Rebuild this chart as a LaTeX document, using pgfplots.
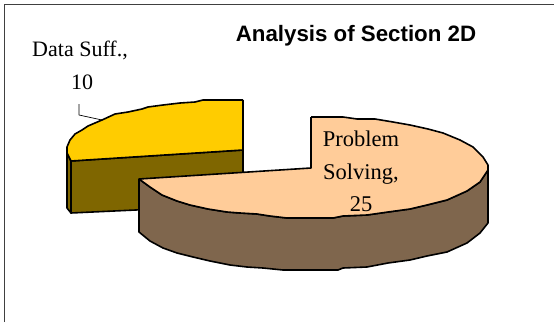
\documentclass[border=0pt]{standalone}
\usepackage{pgfplots}
\pgfplotsset{compat=1.18}
\usepackage{fontspec}
\setmainfont{Liberation Serif}
\newfontfamily\arialfont{Liberation Sans}
\definecolor{yellowtop}{HTML}{FFCC00}
\definecolor{yellowside}{HTML}{7F6600}
\definecolor{peachtop}{HTML}{FFCC99}
\definecolor{peachside}{HTML}{7F664D}
\begin{document}
\begin{tikzpicture}
\begin{axis}[
    at={(0pt,0pt)},
    anchor=south west,
    scale only axis,
    width=554pt,
    height=322pt,
    xmin=0, xmax=554,
    ymin=0, ymax=322,
    y dir=reverse,
    hide axis,
    every axis plot/.append style={sharp plot, no marks, line join=round},
]
% chart frame, runs off the bottom and right
\addplot[draw=black!75, line width=0.9pt] coordinates {(4,322)(4,4)(554,4)};

% Data Suff. slice
\addplot[fill=yellowside, draw=black, line width=1.6pt] coordinates {
    (67,153)(71,161)(71,213)(67,208)(67,153)};
\addplot[fill=yellowside, draw=black, line width=1.6pt] coordinates {
    (71,161)(243,150)(243,205)(71,213)(71,161)};
\addplot[fill=yellowtop, draw=black, line width=1.6pt] coordinates {
    (243,100)(203,100)(195,102)(180,103)(163,105)(148,107)(142,109)(128,112)
    (115,114)(102,120)(88,126)(82,130)(75,134)(70,140)(67,147)(67,153)(71,161)
    (243,150)(243,100)};

% Problem Solving slice
\addplot[fill=peachside, draw=black, line width=1.6pt] coordinates {
    (139,179)(150,187)(162,195)(177,201)(190,205)(208,209)(227,212)(240,213)
    (257,214)(270,216)(287,218)(333,218)(343,216)(367,215)(388,212)(410,209)
    (427,205)(447,200)(467,191)(480,182)(488,170)
    (488,223)(480,233)(467,243)(447,252)(427,256)(410,260)(388,263)(367,267)
    (343,268)(338,270)(283,270)(263,268)(247,267)(230,265)(210,261)(193,257)
    (177,253)(163,248)(150,241)(139,232)(139,179)};
\addplot[fill=peachtop, draw=black, line width=1.6pt] coordinates {
    (311,117)(311,168)(139,179)(150,187)(162,195)(177,201)(190,205)(208,209)
    (227,212)(240,213)(257,214)(270,216)(287,218)(333,218)(343,216)(367,215)
    (388,212)(410,209)(427,205)(447,200)(467,191)(480,182)(488,170)(488,165)
    (483,157)(473,147)(460,140)(443,133)(428,129)(410,125)(393,122)(375,119)
    (357,119)(343,117)(311,117)};

% leader line
\addplot[draw=black, line width=0.7pt] coordinates {(79,104)(79,115)(102,120)};

\node[anchor=base, inner sep=0pt, font=\arialfont\bfseries\fontsize{22.3}{24}\selectfont]
    at (axis cs:356,41) {Analysis of Section 2D};
\node[anchor=base, inner sep=0pt, font=\fontsize{22}{24}\selectfont] at (axis cs:80,56) {Data Suff.,};
\node[anchor=base, inner sep=0pt, font=\fontsize{22}{24}\selectfont] at (axis cs:82,89) {10};
\node[anchor=base, inner sep=0pt, font=\fontsize{22.5}{24}\selectfont] at (axis cs:361,146) {Problem};
\node[anchor=base, inner sep=0pt, font=\fontsize{22.5}{24}\selectfont] at (axis cs:361,179) {Solving,};
\node[anchor=base, inner sep=0pt, font=\fontsize{22.5}{24}\selectfont] at (axis cs:361,211) {25};
\end{axis}
\pgfresetboundingbox
\path[use as bounding box] (0pt,0pt) rectangle (554pt,322pt);
\end{tikzpicture}
\end{document}
